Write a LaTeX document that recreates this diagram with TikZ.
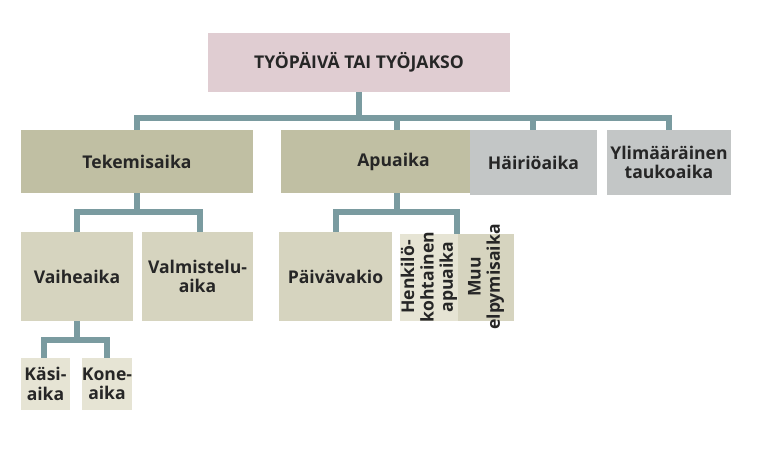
\documentclass[tikz,border=0pt]{standalone}
\usepackage{fontspec}
\setmainfont{Open Sans}
\begin{document}
\begin{tikzpicture}[x=0.02cm,y=-0.02cm,
 bx/.style={draw=none,inner sep=0pt,font=\fontsize{10}{11}\selectfont\bfseries,align=center,text=black!85},
 ln/.style={draw=lineC,line width=3.2pt}]
\definecolor{lineC}{HTML}{7A9BA0}
\definecolor{pinkC}{HTML}{E0CDD2}
\definecolor{oliveC}{HTML}{C0BFA3}
\definecolor{grayC}{HTML}{C3C6C6}
\definecolor{lightC}{HTML}{D6D4BF}
\definecolor{paleC}{HTML}{E6E4D4}
\useasboundingbox (0,0) rectangle (766,450);
\newcommand\bxx[7]{\fill[#6] (#2,#3) rectangle (#4,#5); \node[bx] (#1) at ({(#2+#4)/2},{(#3+#5)/2}) {#7};}
% connectors first
\coordinate (t1) at (359,118);
\draw[ln] (359,92) -- (t1);
\draw[ln] (137,130) -- (137,118) -- (669,118) -- (669,130);
\draw[ln] (397,118) -- (397,130); \draw[ln] (533,118) -- (533,130);
\draw[ln] (137,193) -- (137,212); \draw[ln] (77,232) -- (77,212) -- (200,212) -- (200,232);
\draw[ln] (397,193) -- (397,212); \draw[ln] (336,232) -- (336,212) -- (457,212) -- (457,234);
\draw[ln] (77,321) -- (77,340); \draw[ln] (44,358) -- (44,340) -- (107,340) -- (107,358);
\bxx{top}{208}{33}{510}{92}{pinkC}{TYÖPÄIVÄ TAI TYÖJAKSO}
\bxx{tek}{21}{130}{253}{193}{oliveC}{Tekemisaika}
\bxx{apu}{281}{130}{506}{193}{oliveC}{Apuaika}
\bxx{hai}{470}{130}{597}{195}{grayC}{Häiriöaika}
\bxx{yli}{607}{130}{731}{195}{grayC}{Ylimääräinen\\taukoaika}
\bxx{vai}{21}{232}{133}{321}{lightC}{Vaiheaika}
\bxx{val}{142}{232}{253}{321}{lightC}{Valmistelu-\\aika}
\bxx{pai}{279}{232}{392}{321}{lightC}{Päivävakio}
\fill[paleC] (400,234) rectangle (458,321);
\node[bx,rotate=90] (hen) at (429,277) {Henkilö-\\kohtainen\\apuaika};
\fill[lightC] (458,234) rectangle (514,321);
\node[bx,rotate=90] (muu) at (486,277) {Muu\\elpymisaika};
\bxx{kas}{21}{358}{70}{410}{paleC}{Käsi-\\aika}
\bxx{kon}{82}{358}{132}{410}{paleC}{Kone-\\aika}
\end{tikzpicture}
\end{document}
